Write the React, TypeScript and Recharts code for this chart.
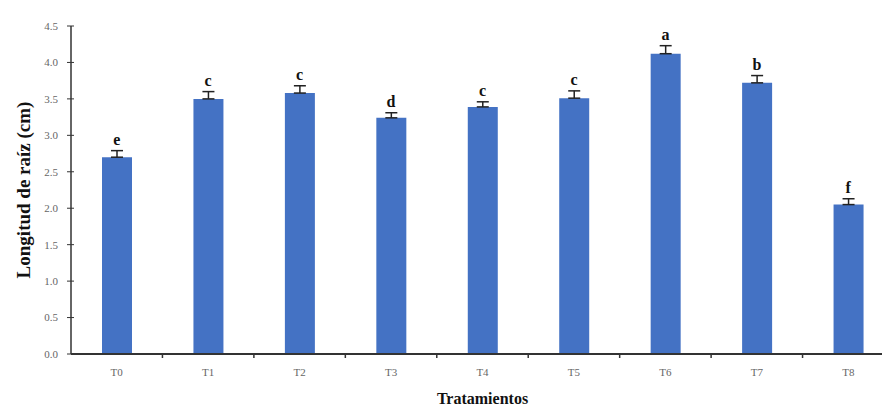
import React from 'react';
import { ComposedChart, Bar, Line, XAxis, YAxis, ErrorBar, LabelList, Label } from 'recharts';

const treatments = ['T0', 'T1', 'T2', 'T3', 'T4', 'T5', 'T6', 'T7', 'T8'];
const rootLength = [2.7, 3.5, 3.58, 3.24, 3.39, 3.51, 4.12, 3.72, 2.05];
const stdError = [0.09, 0.1, 0.1, 0.07, 0.07, 0.1, 0.11, 0.1, 0.08];
const letters = ['e', 'c', 'c', 'd', 'c', 'c', 'a', 'b', 'f'];
const yTicks = [0, 0.5, 1, 1.5, 2, 2.5, 3, 3.5, 4, 4.5];

const data = treatments.map((t, i) => ({
  name: t,
  value: rootLength[i],
  err: [0, stdError[i]],
  top: rootLength[i] + stdError[i],
  letter: letters[i],
}));

const FONT = '"Liberation Serif", "Times New Roman", serif';

const XTick = (props: any) => {
  const { x, y, payload, index } = props;
  const half = payload && payload.offset ? payload.offset : 0;
  return (
    <g>
      <text x={x} y={y} dy="0.71em" textAnchor="middle" fontSize={11} fill="#666" fontFamily={FONT}>
        {payload.value}
      </text>
      {index < treatments.length - 1 && (
        <line x1={x + half} x2={x + half} y1={y - 15} y2={y - 10} stroke="#333" strokeWidth={1.5} />
      )}
    </g>
  );
};

const YTick = (props: any) => {
  const { x, y, payload } = props;
  const ax = x + 13;
  return (
    <g>
      <text x={x} y={y} dy="0.355em" textAnchor="end" fontSize={11} fill="#666" fontFamily={FONT}>
        {Number(payload.value).toFixed(1)}
      </text>
      <line x1={ax - 4} x2={ax + 3} y1={y} y2={y} stroke="#333" strokeWidth={1} />
    </g>
  );
};

export default function App() {
  return (
    <div style={{ position: 'fixed', left: 0, top: 0, width: 882, height: 407, overflow: 'hidden', background: '#fff' }}>
      <ComposedChart width={894} height={407} data={data} margin={{ top: 26, right: 0, bottom: 0, left: 0 }}>
        <XAxis
          dataKey="name"
          height={53}
          tickSize={0}
          tickMargin={14}
          tick={<XTick />}
          axisLine={{ stroke: '#333', strokeWidth: 2 }}
          interval={0}
        >
          <Label
            value="Tratamientos"
            position="insideBottom"
            offset={3}
            style={{ fontFamily: FONT, fontWeight: 'bold', fontSize: 16, fill: '#111' }}
          />
        </XAxis>
        <YAxis
          width={71}
          domain={[0, 4.5]}
          ticks={yTicks}
          interval={0}
          tick={<YTick />}
          tickSize={0}
          tickMargin={13}
          tickLine={false}
          axisLine={{ stroke: '#333', strokeWidth: 1.5 }}
        >
          <Label
            value="Longitud de raíz (cm)"
            angle={-90}
            position="insideLeft"
            offset={23}
            style={{ textAnchor: 'middle', fontFamily: FONT, fontWeight: 'bold', fontSize: 19, fill: '#111' }}
          />
        </YAxis>
        <Bar dataKey="value" fill="#4472C4" barSize={30} isAnimationActive={false}>
          <ErrorBar dataKey="err" width={6} stroke="#222" strokeWidth={1.5} direction="y" />
        </Bar>
        <Line dataKey="top" stroke="none" dot={false} activeDot={false} legendType="none" isAnimationActive={false}>
          <LabelList
            dataKey="letter"
            position="top"
            offset={6}
            style={{ fontFamily: FONT, fontWeight: 'bold', fontSize: 16, fill: '#111' }}
          />
        </Line>
      </ComposedChart>
    </div>
  );
}
